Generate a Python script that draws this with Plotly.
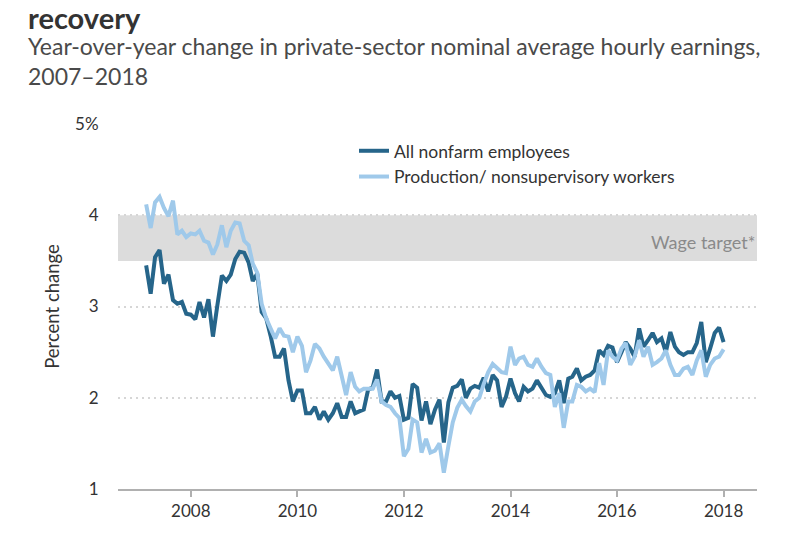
import pandas as pd
import plotly.graph_objects as go

# Monthly data, March 2007 - January 2018 (year-over-year % change)
start_month = "2007-03-01"

all_nonfarm = [
    3.45, 3.14, 3.54, 3.62, 3.25, 3.35, 3.07, 3.03, 3.05, 2.92, 2.91, 2.86,
    3.05, 2.88, 3.08, 2.67, 3.01, 3.34, 3.28, 3.35, 3.52, 3.60, 3.59, 3.48,
    3.28, 3.36, 2.94, 2.87, 2.68, 2.45, 2.45, 2.54, 2.19, 1.96, 2.08, 2.08,
    1.83, 1.83, 1.90, 1.76, 1.85, 1.76, 1.83, 1.94, 1.79, 1.79, 1.96, 1.83,
    1.85, 1.87, 2.09, 2.11, 2.31, 1.96, 1.96, 2.07, 2.00, 2.02, 1.76, 1.78,
    2.15, 2.11, 1.75, 1.96, 1.71, 1.87, 1.98, 1.51, 1.95, 2.11, 2.13, 2.20,
    2.00, 2.10, 2.13, 2.11, 2.22, 2.07, 2.25, 2.19, 1.90, 2.01, 2.21, 2.05,
    1.96, 2.12, 2.07, 2.10, 2.19, 2.10, 2.03, 2.01, 2.05, 2.19, 1.94, 2.21,
    2.23, 2.32, 2.19, 2.23, 2.25, 2.30, 2.52, 2.47, 2.57, 2.55, 2.39, 2.50,
    2.61, 2.54, 2.45, 2.76, 2.56, 2.63, 2.71, 2.61, 2.65, 2.50, 2.72, 2.56,
    2.50, 2.47, 2.50, 2.50, 2.60, 2.83, 2.39, 2.54, 2.71, 2.77, 2.61,
]

production = [
    4.12, 3.86, 4.14, 4.20, 4.08, 3.99, 4.16, 3.79, 3.83, 3.76, 3.80, 3.79,
    3.83, 3.72, 3.70, 3.57, 3.68, 3.89, 3.65, 3.83, 3.92, 3.91, 3.72, 3.67,
    3.47, 3.37, 3.03, 2.87, 2.76, 2.65, 2.76, 2.68, 2.67, 2.50, 2.67, 2.57,
    2.28, 2.41, 2.59, 2.54, 2.45, 2.37, 2.30, 2.45, 2.21, 2.03, 2.28, 2.12,
    2.07, 2.10, 2.10, 2.10, 2.20, 1.96, 1.92, 1.90, 1.83, 1.78, 1.36, 1.44,
    1.76, 1.73, 1.40, 1.55, 1.40, 1.42, 1.50, 1.18, 1.47, 1.73, 1.89, 1.98,
    1.91, 1.85, 1.96, 2.00, 2.15, 2.28, 2.37, 2.32, 2.28, 2.27, 2.56, 2.36,
    2.43, 2.45, 2.36, 2.34, 2.43, 2.34, 2.27, 2.25, 1.90, 2.05, 1.67, 1.96,
    1.96, 2.14, 2.12, 2.07, 2.10, 2.06, 2.38, 2.14, 2.52, 2.45, 2.41, 2.54,
    2.60, 2.36, 2.45, 2.63, 2.45, 2.56, 2.36, 2.39, 2.43, 2.52, 2.36, 2.25,
    2.25, 2.32, 2.34, 2.25, 2.41, 2.52, 2.23, 2.36, 2.43, 2.45, 2.53,
]

series_names = ["All nonfarm employees", "Production/ nonsupervisory workers"]
series_colors = ["#26658a", "#9fc9ea"]

wage_target = [3.5, 4.0]
y_tick_vals = [1, 2, 3, 4, 5]
y_tick_text = ["1", "2", "3", "4", "5%"]
x_tick_years = ["2008", "2010", "2012", "2014", "2016", "2018"]

dates = pd.date_range(start_month, periods=len(all_nonfarm), freq="MS")

FONT = "Lato, 'Open Sans', sans-serif"

fig = go.Figure()
for name, vals, col in zip(series_names, [all_nonfarm, production], series_colors):
    fig.add_trace(go.Scatter(
        x=dates, y=vals, mode="lines", name=name,
        line=dict(color=col, width=4),
    ))

fig.add_shape(type="rect", xref="paper", x0=0, x1=1, yref="y",
              y0=wage_target[0], y1=wage_target[1],
              fillcolor="#dcdcdc", line=dict(width=0), layer="below")

fig.add_annotation(text="Wage target*", xref="paper", x=1, xanchor="right",
                   yref="y", y=3.71, yanchor="middle", showarrow=False,
                   font=dict(family=FONT, size=18, color="#8a8a8a"))

# The page body has an 8px margin, so the figure is sized to fill the
# remaining 792x525 area of the window.
L, R, T, B = 110, 43, 116, 40
W, H = 792, 525
pw, ph = W - L - R, H - T - B

def px_x(x):
    return (x - L) / pw

def px_y(y):
    return (H - B - y) / ph

fig.add_annotation(text="<b>recovery</b>", xref="paper", yref="paper",
                   x=px_x(18), y=px_y(8), xanchor="left", yanchor="middle",
                   showarrow=False, font=dict(family=FONT, size=29, color="#333333"))
fig.add_annotation(
    text="Year-over-year change in private-sector nominal average hourly earnings,<br>2007\u20132018",
    xref="paper", yref="paper", x=px_x(18), y=px_y(52),
    xanchor="left", yanchor="middle", align="left", showarrow=False,
    font=dict(family=FONT, size=23, color="#4a4a4a"))

fig.update_layout(
    width=W, height=H,
    margin=dict(l=L, r=R, t=T, b=B),
    paper_bgcolor="white", plot_bgcolor="white",
    font=dict(family=FONT, color="#333333"),
    showlegend=True,
    legend=dict(x=px_x(346), y=px_y(125), xanchor="left", yanchor="top",
                font=dict(family=FONT, size=17.5, color="#333333"),
                bgcolor="rgba(0,0,0,0)", tracegroupgap=0, itemwidth=30),
    xaxis=dict(
        type="date",
        range=["2006-08-20", "2018-08-18"],
        tickvals=[y + "-01-01" for y in x_tick_years],
        ticktext=x_tick_years,
        showgrid=False, zeroline=False,
        showline=True, linecolor="#b0b0b0", linewidth=1.5,
        ticks="outside", ticklen=6, tickwidth=1.5, tickcolor="#b0b0b0",
        tickfont=dict(family=FONT, size=17, color="#333333"),
    ),
    yaxis=dict(
        range=[1, 5],
        tickvals=y_tick_vals, ticktext=y_tick_text,
        showgrid=True, gridcolor="#d6d6d6", gridwidth=2, griddash="2px,4px",
        zeroline=False, showline=False,
        ticks="outside", ticklen=15, tickcolor="rgba(0,0,0,0)",
        tickfont=dict(family=FONT, size=17, color="#333333"),
        title=dict(text="Percent change", standoff=10,
                   font=dict(family=FONT, size=18.5, color="#333333")),
    ),
)

fig.write_html("out.html")
